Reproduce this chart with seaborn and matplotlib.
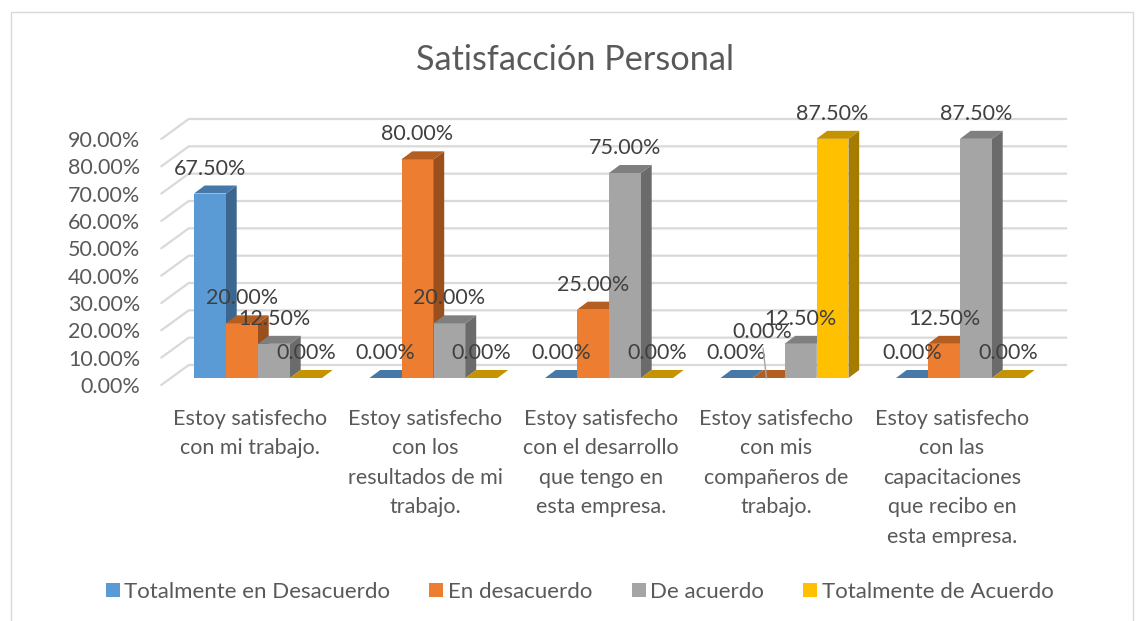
import matplotlib
matplotlib.use('Agg')
import numpy as np
import pandas as pd
import seaborn as sns
import matplotlib.pyplot as plt
from matplotlib.lines import Line2D
from matplotlib.patches import Polygon
from matplotlib.transforms import ScaledTranslation

categories = ['Estoy satisfecho\ncon mi trabajo.',
              'Estoy satisfecho\ncon los\nresultados de mi\ntrabajo.',
              'Estoy satisfecho\ncon el desarrollo\nque tengo en\nesta empresa.',
              'Estoy satisfecho\ncon mis\ncompañeros de\ntrabajo.',
              'Estoy satisfecho\ncon las\ncapacitaciones\nque recibo en\nesta empresa.']
series_names = ['Totalmente en Desacuerdo', 'En desacuerdo', 'De acuerdo', 'Totalmente de Acuerdo']
totalmente_desacuerdo = [67.5, 0, 0, 0, 0]
en_desacuerdo = [20, 80, 25, 0, 12.5]
de_acuerdo = [12.5, 20, 75, 12.5, 87.5]
totalmente_acuerdo = [0, 0, 0, 87.5, 0]
y_ticks = [0, 10, 20, 30, 40, 50, 60, 70, 80, 90]

front_colors = ['#5B9BD5', '#ED7D31', '#A5A5A5', '#FFC000']
top_colors = ['#4779A8', '#B55E22', '#7F7F7F', '#C49400']
side_colors = ['#3B6690', '#9A4F1C', '#6B6B6B', '#A67C00']
grid_color = '#D9D9D9'
text_color = '#595959'
label_color = '#404040'

rows = []
for name, vals in zip(series_names, [totalmente_desacuerdo, en_desacuerdo, de_acuerdo, totalmente_acuerdo]):
    for c, v in zip(categories, vals):
        rows.append({'cat': c, 'serie': name, 'valor': v})
df = pd.DataFrame(rows)

sns.set_theme(style='white')
plt.rcParams['font.family'] = ['Lato', 'DejaVu Sans']

W, H = 1143, 621
fs = 15.5
fig = plt.figure(figsize=(W / 100, H / 100), dpi=100)
ax = fig.add_axes([170.25 / W, (H - 378) / H, 877.5 / W, 246 / H])

sns.barplot(data=df, x='cat', y='valor', hue='serie', palette=front_colors,
            width=128 / 175.5, saturation=1, ax=ax, zorder=3, legend=True, linewidth=0)
ax.set_xlim(-0.5, 4.5)
ax.set_ylim(0, 90)
ax.set_xlabel('')
ax.set_ylabel('')
sns.despine(ax=ax, left=True, bottom=True, top=True, right=True)

# pixels to data units, for the fake 3d depth
px_x = 1 / 175.5
px_y = 90 / 246
dx, dy = 10.7 * px_x, 8 * px_y
back_x, back_y = 18.5 * px_x, 13 * px_y
front_x, front_y = -9 * px_x, -7 * px_y

# back wall grid and the diagonals on the left wall
for t in y_ticks:
    ax.plot([-0.5 + front_x, -0.5 + back_x, 4.5 + back_x],
            [t + front_y, t + back_y, t + back_y],
            color=grid_color, lw=1.6, clip_on=False, zorder=1, solid_joinstyle='miter')

# depth faces of the bars
for i, cont in enumerate(ax.containers):
    for bar in cont:
        bar.set_zorder(4 + i)
        x0, w, h = bar.get_x(), bar.get_width(), bar.get_height()
        top = Polygon([(x0, h), (x0 + dx, h + dy), (x0 + w + dx, h + dy), (x0 + w, h)],
                      closed=True, fc=top_colors[i], ec='none', clip_on=False, zorder=4 + i)
        side = Polygon([(x0 + w, 0), (x0 + w + dx, dy), (x0 + w + dx, h + dy), (x0 + w, h)],
                       closed=True, fc=side_colors[i], ec='none', clip_on=False, zorder=4 + i)
        ax.add_patch(side)
        ax.add_patch(top)

# data labels, the orange zero of the fourth group has its leader line
for i, cont in enumerate(ax.containers):
    for j, bar in enumerate(cont):
        cx = bar.get_x() + bar.get_width() / 2
        h = bar.get_height()
        if i == 1 and j == 3:
            ax.annotate(f'{h:.2f}%', xy=(cx - 2 * px_x, h), xytext=(-3, 33),
                        textcoords='offset points', ha='center', va='center', fontsize=fs,
                        color=label_color, zorder=20,
                        arrowprops=dict(arrowstyle='-', color='#A6A6A6', lw=1,
                                        shrinkA=2, shrinkB=0, relpos=(0.5, 0)))
        else:
            ax.text(cx, h + 25 * px_y, f'{h:.2f}%', ha='center', va='center',
                    fontsize=fs, color=label_color, zorder=20)

ax.set_yticks(y_ticks)
ax.set_yticklabels([f'{t:.2f}%' for t in y_ticks])
ax.tick_params(axis='y', length=0, pad=21.8, labelsize=fs, labelcolor=text_color)
ax.tick_params(axis='x', length=0, pad=22, labelsize=fs, labelcolor=text_color)
for lab in ax.get_yticklabels():
    lab.set_transform(lab.get_transform() + ScaledTranslation(0, -0.07, fig.dpi_scale_trans))
for lab in ax.get_xticklabels():
    lab.set_linespacing(1.6)
    lab.set_transform(lab.get_transform() + ScaledTranslation(-0.08, 0, fig.dpi_scale_trans))

handles, labels = ax.get_legend_handles_labels()
ax.legend(handles, labels, ncol=4, frameon=False, loc='center', fontsize=16,
          bbox_to_anchor=(579.5 / W, (H - 592) / H), bbox_transform=fig.transFigure,
          handlelength=0.63, handleheight=0.63, handletextpad=0.2, columnspacing=1.77,
          labelcolor=text_color)

fig.text(574.5 / W, (H - 60) / H, 'Satisfacción Personal', ha='center', va='center',
         fontsize=24.7, color=text_color)

# chart frame, open at the bottom like the cropped original
fig.add_artist(Line2D([11 / W, 11 / W, 1133 / W, 1133 / W], [0, (H - 12) / H, (H - 12) / H, 0],
                      color=grid_color, lw=1))

fig.savefig('out.png', dpi=100)
